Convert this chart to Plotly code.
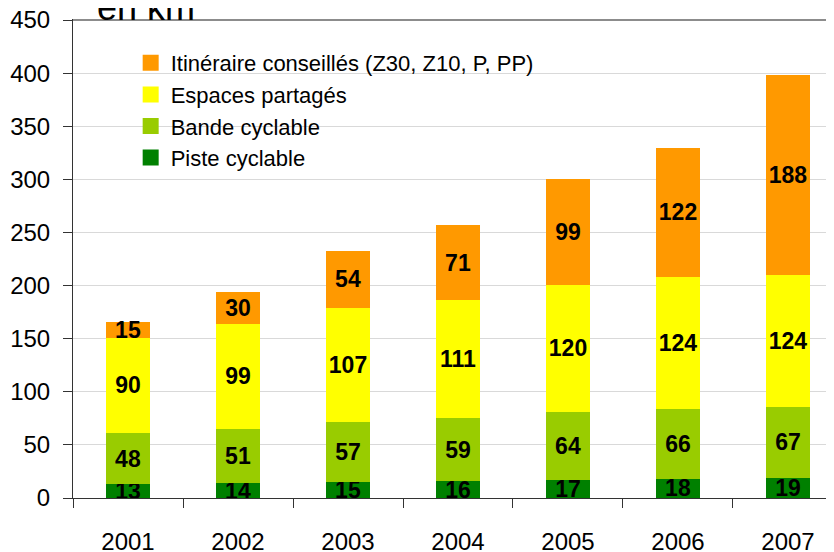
import plotly.graph_objects as go

years = ["2001", "2002", "2003", "2004", "2005", "2006", "2007"]
piste = [13, 14, 15, 16, 17, 18, 19]
bande = [48, 51, 57, 59, 64, 66, 67]
espaces = [90, 99, 107, 111, 120, 124, 124]
itineraire = [15, 30, 54, 71, 99, 122, 188]
y_max = 450

series = [
    ("Piste cyclable", piste, "#008000"),
    ("Bande cyclable", bande, "#99CC00"),
    ("Espaces partagés", espaces, "#FFFF00"),
    ("Itinéraire conseillés (Z30, Z10, P, PP)", itineraire, "#FF9900"),
]

FONT = "Liberation Sans"
fig = go.Figure()
for name, vals, color in series:
    fig.add_trace(go.Bar(
        x=years, y=vals, name=name, marker=dict(color=color, line=dict(width=0)),
        text=[str(v) for v in vals], textposition="inside", insidetextanchor="middle",
        constraintext="none", textangle=0,
        textfont=dict(family=FONT, size=23, color="black", weight="bold"),
        showlegend=False, hoverinfo="skip",
    ))

# legend entries with larger square symbols (top to bottom)
for name, vals, color in reversed(series):
    fig.add_trace(go.Scatter(
        x=[None], y=[None], mode="markers", name=name,
        marker=dict(symbol="square", size=19, color=color),
        showlegend=True,
    ))

fig.update_layout(
    width=834, height=552,
    barmode="stack", bargap=0.6,
    plot_bgcolor="white", paper_bgcolor="white",
    margin=dict(l=65, r=0, t=11, b=62, autoexpand=False),
    font=dict(family=FONT, size=24, color="black"),
    showlegend=True,
    legend=dict(x=0.075, y=0.952, xanchor="left", yanchor="top",
                bgcolor="rgba(0,0,0,0)", font=dict(size=22, family=FONT),
                itemwidth=30, tracegroupgap=0, traceorder="normal"),
    xaxis=dict(range=[-0.5, 6.491], tickson="boundaries", ticks="outside", ticklen=9,
               tickcolor="#333", showline=True, linecolor="#333", linewidth=1,
               showgrid=False, ticklabelstandoff=22, tickfont=dict(size=24),
               automargin=False, ticklabeloverflow="allow"),
    yaxis=dict(range=[0, 451], tickvals=list(range(0, y_max + 1, 50)), ticks="outside",
               ticklen=9, tickcolor="#333", showline=True, linecolor="#333",
               linewidth=1, showgrid=True, gridcolor="#D9D9D9", gridwidth=1,
               ticklabelstandoff=8, tickfont=dict(size=24), zeroline=False,
               automargin=False, ticklabeloverflow="allow"),
)
# top border of the plot area, drawn on the paper so it is never clipped
fig.add_shape(type="rect", xref="paper", yref="paper", x0=0, x1=1, y0=0.996, y1=1.0,
              fillcolor="#8C8C8C", line=dict(width=0), layer="above")
fig.add_annotation(text="en km", xref="paper", yref="paper", x=(87 - 65) / 769, y=1.0,
                   xanchor="left", yanchor="bottom", yshift=-11, showarrow=False,
                   font=dict(size=36, family=FONT, color="black"))

fig.write_html("out.html")
